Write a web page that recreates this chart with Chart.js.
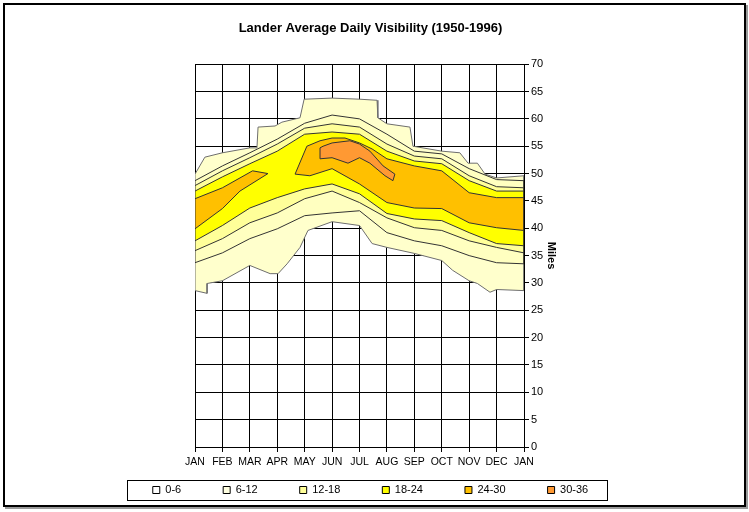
<!DOCTYPE html>
<html>
<head>
<meta charset="utf-8">
<title>Lander Average Daily Visibility</title>
<script src="https://cdn.jsdelivr.net/npm/chart.js"></script>
<style>
    html, body { margin: 0; padding: 0; background: #fff; }
    #wrap { position: relative; width: 749px; height: 512px; }
    #frame {
        position: absolute; left: 3px; top: 3px; width: 739px; height: 500px;
        border: 2px solid #000; box-shadow: 2px 2px 0 #9a9a9a; pointer-events: none;
    }
</style>
</head>
<body>
<div id="wrap">
    <canvas id="visChart" width="749" height="512"></canvas>
    <div id="frame"></div>
</div>
<script>
// x is the month index (0 = JAN ... 12 = JAN), y is miles
const monthLabels = ['JAN', 'FEB', 'MAR', 'APR', 'MAY', 'JUN', 'JUL', 'AUG', 'SEP', 'OCT', 'NOV', 'DEC', 'JAN'];

const legendLabels = ['0-6', '6-12', '12-18', '18-24', '24-30', '30-36'];
const legendColors = ['#FFFFFF', '#FFFFE1', '#FFFF99', '#FFFF00', '#FFC000', '#FF9933'];

// contour edges, upper and lower
const p1Upper = [[0,49.9],[0.36,53.0],[1,53.8],[2,54.7],[2.26,54.7],[2.3,58.5],[2.92,58.7],[3.17,59.4],[3.83,60.2],[3.98,63.6],[5,63.8],[6,63.6],[6.64,63.4],[6.67,60.2],[7,59.1],[7.84,58.5],[7.95,55.0],[9,54.1],[9.66,53.8],[9.96,51.9],[10.3,51.9],[10.58,49.9],[11,49.2],[12,49.6]];
const p1Lower = [[0,28.6],[0.44,28.1],[0.44,29.9],[1,30.4],[2,33.2],[2.74,31.7],[3.03,31.7],[3.36,33.5],[3.83,36.5],[4.12,39.6],[5,41.2],[6,40.5],[6.46,37.2],[7,36.5],[8,35.4],[9,34.1],[9.4,32.3],[10,30.4],[10.3,29.9],[10.76,28.3],[11,28.8],[12,28.6]];

const p2Upper = [[0,48.7],[1,51.4],[2,53.8],[3,56.3],[4,59.2],[5,60.7],[6,60.0],[7,57.2],[8,54.1],[9,53.6],[10,50.9],[11,48.9],[12,48.7]];
const p2Lower = [[0,33.7],[1,35.5],[2,38.1],[3,39.9],[4,42.3],[5,42.8],[6,43.2],[7,39.2],[8,37.7],[9,36.8],[10,35.0],[11,33.7],[12,33.5]];

const p3Upper = [[0,47.8],[1,50.5],[2,52.9],[3,55.4],[4,58.3],[5,59.1],[6,58.5],[7,55.4],[8,53.2],[9,52.7],[10,49.6],[11,47.6],[12,47.4]];
const p3Lower = [[0,35.9],[1,38.1],[2,41.0],[3,42.8],[4,45.4],[5,46.8],[6,44.7],[7,41.9],[8,40.1],[9,39.6],[10,37.7],[11,36.5],[12,35.5]];

const p4Upper = [[0,46.8],[1,49.4],[2,51.8],[3,54.1],[4,57.2],[5,57.6],[6,57.2],[7,54.1],[8,52.3],[9,51.8],[10,48.7],[11,46.8],[12,46.8]];
const p4Lower = [[0,37.7],[1,40.5],[2,43.7],[3,45.6],[4,47.2],[5,48.1],[6,46.3],[7,42.7],[8,41.7],[9,41.4],[10,39.2],[11,37.2],[12,36.8]];

const p5aUpper = [[0,45.4],[1,47.4],[2.1,50.5],[2.66,50.0]];
const p5aLower = [[0,39.9],[1,43.6],[1.64,46.8],[2.66,50.0]];

const p5bUpper = [[3.65,49.9],[4.08,55.0],[4.56,56.0],[5,56.5],[5.47,56.5],[6,55.6],[6.46,54.5],[7,52.7],[8,51.4],[9,50.5],[10,46.5],[11,45.6],[12,45.6]];
const p5bLower = [[3.65,49.9],[4.19,49.6],[5,50.9],[6,48.1],[7,44.7],[8,43.7],[9,43.6],[10,41.0],[11,40.1],[12,39.6]];

const p6Upper = [[4.56,54.7],[4.67,55.0],[5,55.6],[5.65,56.0],[6,55.4],[6.38,54.1],[6.86,51.4],[7.29,49.9]];
const p6Lower = [[4.56,52.7],[5,52.9],[5.58,51.9],[6,52.9],[6.38,51.9],[6.93,49.6],[7.22,48.7],[7.29,49.9]];

function polygon(upper, lower) {
    const pts = upper.concat(lower.slice().reverse());
    const a = pts[0], b = pts[pts.length - 1];
    if (a[0] !== b[0] || a[1] !== b[1]) pts.push(a);
    return pts.map(p => ({ x: p[0], y: p[1] }));
}

function band(upper, lower, color, line, order) {
    return {
        data: polygon(upper, lower),
        backgroundColor: color,
        borderColor: line,
        borderWidth: 1,
        pointRadius: 0,
        tension: 0,
        fill: 'shape',
        order: order
    };
}

// draws the box round the legend and lifts the legend items into place
const legendFrame = {
    id: 'legendFrame',
    afterLayout(chart) {
        const lg = chart.legend;
        lg.top -= lg.options.labels.padding - 17.5;
    },
    afterDraw(chart) {
        const boxes = chart.legend.legendHitBoxes;
        if (!boxes || !boxes.length) return;
        const first = boxes[0];
        const last = boxes[boxes.length - 1];
        const ctx = chart.ctx;
        ctx.save();
        ctx.strokeStyle = '#000';
        ctx.lineWidth = 1;
        const left = Math.round(first.left - 26) + 0.5;
        const right = Math.round(last.left + last.width + 19) + 0.5;
        const top = Math.round(first.top - 5) + 0.5;
        const bottom = Math.round(first.top + first.height + 4) + 0.5;
        ctx.strokeRect(left, top, right - left, bottom - top);
        ctx.restore();
    }
};

function initChart() {
    const ctx = document.getElementById('visChart').getContext('2d');
    Chart.defaults.font.family = 'Arial, "Liberation Sans", sans-serif';
    Chart.defaults.color = '#000';

    new Chart(ctx, {
        type: 'line',
        data: {
            datasets: [
                band(p1Upper, p1Lower, '#FFFFCC', '#6e6e6e', 6),
                band(p2Upper, p2Lower, '#FFFFC0', '#333333', 5),
                band(p3Upper, p3Lower, '#FFFF99', '#333333', 4),
                band(p4Upper, p4Lower, '#FFFF00', '#333333', 3),
                band(p5aUpper, p5aLower, '#FFC000', '#333333', 2),
                band(p5bUpper, p5bLower, '#FFC000', '#333333', 2),
                band(p6Upper, p6Lower, '#FF9933', '#333333', 1)
            ]
        },
        options: {
            responsive: false,
            animation: false,
            events: [],
            layout: {
                padding: { left: 0, right: 8, top: 0, bottom: 15 }
            },
            scales: {
                x: {
                    type: 'linear',
                    min: 0,
                    max: 12,
                    z: 1,
                    afterFit: s => { s.height = 20; },
                    grid: { color: '#000', lineWidth: 1, tickLength: 5, tickColor: '#000' },
                    border: { color: '#000', width: 1 },
                    ticks: {
                        stepSize: 1,
                        autoSkip: false,
                        maxRotation: 0,
                        padding: 4,
                        font: { size: 10.5 },
                        callback: v => monthLabels[v]
                    }
                },
                y: {
                    position: 'right',
                    min: 0,
                    max: 70,
                    z: 1,
                    afterFit: s => { s.width = 217; },
                    grid: { color: '#000', lineWidth: 1, tickLength: 5, tickColor: '#000' },
                    border: { color: '#000', width: 1 },
                    ticks: { stepSize: 5, padding: 2, font: { size: 11 } },
                    title: {
                        display: true,
                        text: 'Miles',
                        font: { size: 11, weight: 'bold' },
                        padding: { top: 183 }
                    }
                },
                yl: {
                    position: 'left',
                    afterFit: s => { s.width = 195; },
                    grid: { display: false },
                    border: { display: false },
                    ticks: { display: false }
                }
            },
            plugins: {
                title: {
                    display: true,
                    text: 'Lander Average Daily Visibility (1950-1996)',
                    font: { size: 13, weight: 'bold' },
                    padding: { top: 20.5, bottom: 28.1 }
                },
                legend: {
                    display: true,
                    position: 'bottom',
                    maxHeight: 30,
                    labels: {
                        boxWidth: 7,
                        boxHeight: 7,
                        padding: 42,
                        font: { size: 11 },
                        generateLabels: () => legendLabels.map((t, i) => ({
                            text: t,
                            fillStyle: legendColors[i],
                            strokeStyle: '#000',
                            lineWidth: 1,
                            hidden: false,
                            fontColor: '#000'
                        }))
                    }
                },
                tooltip: { enabled: false }
            }
        },
        plugins: [legendFrame]
    });
}

window.onload = function() {
    initChart();
};
</script>
</body>
</html>
